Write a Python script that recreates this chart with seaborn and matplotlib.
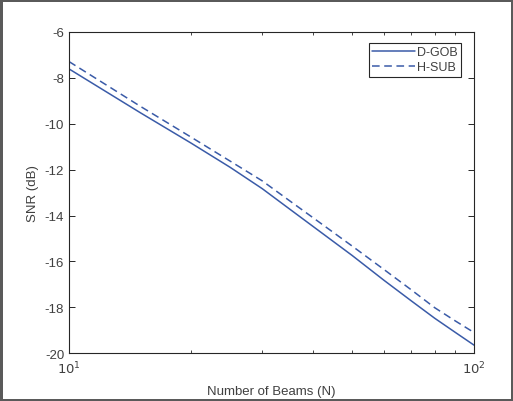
import numpy as np
import pandas as pd
import matplotlib
matplotlib.use("Agg")
import matplotlib.pyplot as plt
import seaborn as sns

# values
beams = [10, 15, 20, 25, 30, 35, 40, 50, 60, 70, 80, 90, 100]
snr_dgob = [-7.61, -9.52, -10.84, -11.90, -12.83, -13.71, -14.47, -15.74,
            -16.83, -17.72, -18.48, -19.10, -19.65]
snr_hsub = [-7.29, -9.24, -10.58, -11.63, -12.49, -13.35, -14.09, -15.33,
            -16.36, -17.24, -18.02, -18.60, -19.10]
yticks = [-20, -18, -16, -14, -12, -10, -8, -6]

sns.set_theme(style="ticks")
plt.rcParams["font.family"] = ["Liberation Sans", "DejaVu Sans"]

df = pd.concat([
    pd.DataFrame({"N": beams, "SNR": snr_dgob, "scheme": "D-GOB"}),
    pd.DataFrame({"N": beams, "SNR": snr_hsub, "scheme": "H-SUB"}),
], ignore_index=True)

blue = "#3a5ba8"
txt = "#404040"

fig = plt.figure(figsize=(5.13, 4.02), dpi=100, facecolor="white",
                 edgecolor="#5a5a5a", linewidth=2.5)
ax = fig.add_axes([0.1345, 0.119, 0.7895, 0.799])

sns.lineplot(data=df, x="N", y="SNR", hue="scheme", style="scheme",
             palette=[blue, blue], dashes={"D-GOB": "", "H-SUB": (5, 3)},
             linewidth=1.1, ax=ax)

ax.set_xscale("log")
ax.set_xlim(10, 100)
ax.set_ylim(-20, -6)
ax.set_yticks(yticks)
ax.set_yticklabels([str(v) for v in yticks])
ax.set_xticks([10, 100])
ax.set_xticklabels([r"$10^1$", r"$10^2$"])

for s in ax.spines.values():
    s.set_visible(True)
    s.set_color("#262626")
    s.set_linewidth(0.8)

ax.tick_params(which="both", direction="in", top=True, right=True,
               colors="#262626", labelcolor=txt, labelsize=9.5)
ax.tick_params(which="major", length=4.5, width=0.7)
ax.tick_params(which="minor", length=2.5, width=0.6)
ax.tick_params(axis="x", pad=5)
ax.xaxis.set_minor_formatter(matplotlib.ticker.NullFormatter())

ax.set_xlabel("Number of Beams (N)", color=txt, fontsize=9.5, labelpad=6)
ax.set_ylabel("SNR (dB)", color=txt, fontsize=9.5)

leg = ax.legend(loc="upper right", fontsize=9, frameon=True, fancybox=False,
                framealpha=1, edgecolor="#262626", handlelength=3.4,
                borderpad=0.25, labelspacing=0.25, handletextpad=0.15,
                borderaxespad=0, bbox_to_anchor=(0.967, 0.965))
leg.get_frame().set_linewidth(0.8)
for t in leg.get_texts():
    t.set_color(txt)

fig.savefig("out.png", dpi=100, edgecolor=fig.get_edgecolor())
